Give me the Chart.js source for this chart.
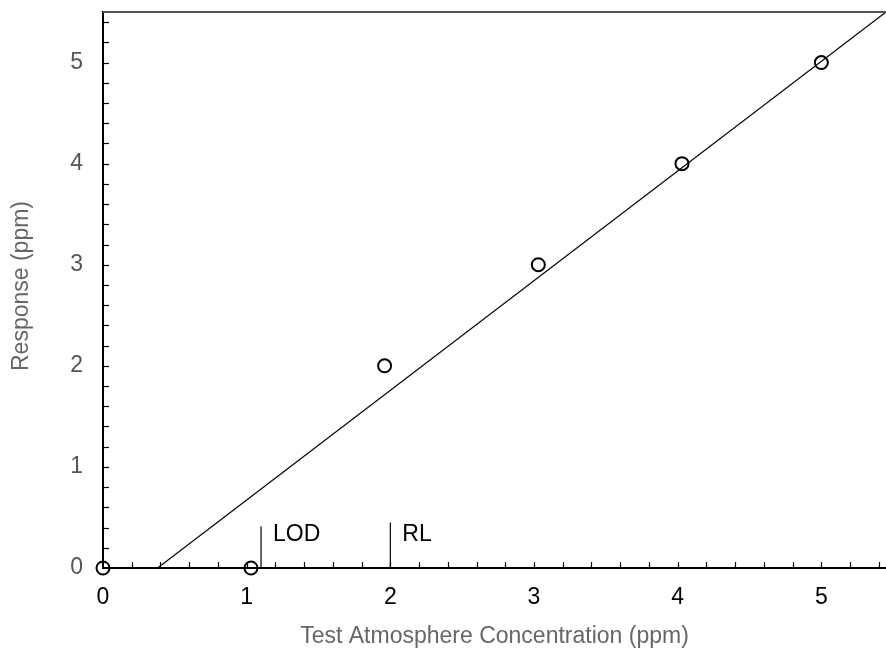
<!DOCTYPE html>
<html>
<head>
<meta charset="utf-8">
<script src="https://cdn.jsdelivr.net/npm/chart.js@4"></script>
<style>
html,body{margin:0;padding:0;background:#fff;}
#wrap{width:886px;height:650px;}
</style>
</head>
<body>
<div id="wrap"><canvas id="chart"></canvas></div>
<script>
// measured points
const concX = [0, 1.03, 1.96, 3.03, 4.03, 5.0];
const respY = [0, 0, 2, 3, 4, 5];
// regression line ends
const fitX = [0.38, 5.45];
const fitY = [0, 5.5];
// limit markers
const markerNames = ['LOD', 'RL'];
const markerX = [1.1, 2.0];
const markerTop = [0.41, 0.45];
const xTicks = [0, 1, 2, 3, 4, 5];
const yTicks = [0, 1, 2, 3, 4, 5];

const FONT = "'Liberation Sans', Arial, sans-serif";

const pts = concX.map((x, i) => ({x: x, y: respY[i]}));
const fit = fitX.map((x, i) => ({x: x, y: fitY[i]}));

const markerSets = markerX.map((x, i) => ({
    data: [{x: x, y: 0}, {x: x, y: markerTop[i]}],
    showLine: true, borderColor: '#000', borderWidth: 1.2, pointRadius: 0, clip: false
}));

const extras = {
    id: 'extras',
    afterDraw(chart) {
        const c = chart.ctx, a = chart.chartArea;
        const xs = chart.scales.x, ys = chart.scales.y;
        c.save();
        // top frame line
        c.strokeStyle = '#555'; c.lineWidth = 2;
        c.beginPath(); c.moveTo(a.left, a.top); c.lineTo(a.right, a.top); c.stroke();
        // inward minor ticks every 0.2
        c.strokeStyle = '#000'; c.lineWidth = 1.2;
        for (let v = 0.2; v <= xs.max + 1e-6; v += 0.2) {
            const px = Math.round(xs.getPixelForValue(v)) + 0.5;
            c.beginPath(); c.moveTo(px, a.bottom); c.lineTo(px, a.bottom - 6); c.stroke();
        }
        for (let v = 0.2; v <= ys.max + 1e-6; v += 0.2) {
            const py = Math.round(ys.getPixelForValue(v)) + 0.5;
            c.beginPath(); c.moveTo(a.left, py); c.lineTo(a.left + 6, py); c.stroke();
        }
        // marker labels
        c.fillStyle = '#000'; c.font = '23px ' + FONT;
        c.textAlign = 'left'; c.textBaseline = 'middle';
        markerNames.forEach((n, i) => {
            c.fillText(n, xs.getPixelForValue(markerX[i]) + 12, ys.getPixelForValue(0.33));
        });
        // axis titles
        c.fillStyle = '#666'; c.font = '23px ' + FONT;
        c.textAlign = 'center'; c.textBaseline = 'alphabetic';
        c.fillText('Test Atmosphere Concentration (ppm)', (a.left + a.right) / 2, 643);
        c.translate(28, 286);
        c.rotate(-Math.PI / 2);
        c.fillText('Response (ppm)', 0, 0);
        c.restore();
    }
};

new Chart(document.getElementById('chart'), {
    type: 'scatter',
    data: {
        datasets: [
            {data: fit, showLine: true, borderColor: '#000', borderWidth: 1.2, pointRadius: 0},
            {data: pts, borderColor: '#000', backgroundColor: 'rgba(0,0,0,0)', borderWidth: 2, pointRadius: 6.5, pointHoverRadius: 6.5, clip: false}
        ].concat(markerSets)
    },
    options: {
        responsive: true, maintainAspectRatio: false, animation: false,
        layout: {autoPadding: false, padding: {top: 12, right: 0, left: 0, bottom: 0}},
        plugins: {legend: {display: false}, tooltip: {enabled: false}},
        scales: {
            x: {
                type: 'linear', min: 0, max: 5.45,
                afterFit: s => { s.height = 82; s.paddingLeft = 0; s.paddingRight = 0; },
                afterBuildTicks: s => { s.ticks = xTicks.map(v => ({value: v})); },
                grid: {display: false, drawTicks: false},
                border: {display: true, color: '#000', width: 2},
                ticks: {color: '#000', padding: 16, font: {size: 23, family: FONT}}
            },
            y: {
                type: 'linear', min: 0, max: 5.5,
                afterFit: s => { s.width = 103; s.paddingTop = 0; s.paddingBottom = 0; },
                afterBuildTicks: s => { s.ticks = yTicks.map(v => ({value: v})); },
                grid: {display: false, drawTicks: false},
                border: {display: true, color: '#000', width: 2},
                ticks: {color: '#555', padding: 20, font: {size: 23, family: FONT}}
            }
        }
    },
    plugins: [extras]
});
</script>
</body>
</html>
